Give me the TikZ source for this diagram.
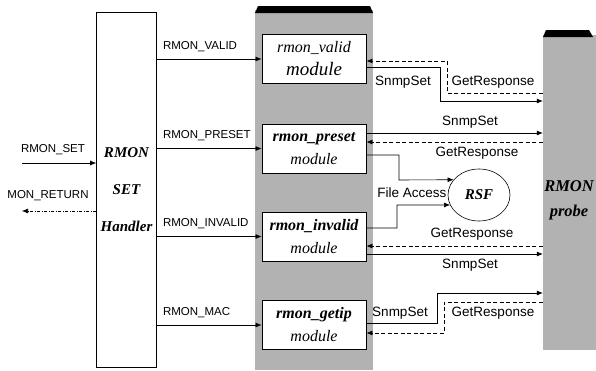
\documentclass[tikz,border=0pt]{standalone}
\usepackage{fontspec}
\setmainfont{Liberation Serif}
\setsansfont{Liberation Sans}
\usetikzlibrary{arrows.meta, positioning, calc, shapes.geometric}

\begin{document}
\begin{tikzpicture}[x=1pt, y=-1pt,
  tip/.style={-{Latex[length=6pt,width=5pt]}},
  sig/.style={tip, line width=0.6pt},
  resp/.style={tip, line width=0.6pt, dash pattern=on 4pt off 2.5pt},
  ret/.style={tip, line width=0.6pt, dash pattern=on 3pt off 1.5pt on 1pt off 1.5pt},
  lbl/.style={font=\sffamily\fontsize{13.5}{15}\selectfont, inner sep=1pt},
  cmd/.style={font=\sffamily\fontsize{11.5}{13}\selectfont, inner sep=1pt},
  cmdlbl/.style={cmd, anchor=south west, pos=0, xshift=5pt, yshift=6pt},
  modbox/.style={draw, line width=0.9pt, fill=white, minimum width=104pt,
    minimum height=49pt, inner sep=0pt, align=center,
    font=\itshape\fontsize{16}{23}\selectfont},
  panel/.style={fill=black!30}]

\useasboundingbox (0,0) rectangle (596,370);
\clip (0,0) rectangle (596,370);

% module panel
\fill[panel] (255,10) rectangle (373,370);
\fill (255,13) -- (258,6) -- (370,6) -- (373,13) -- cycle;

% probe panel
\node[panel, minimum width=53pt, minimum height=315pt, inner sep=0pt] (probe) at (569.5,192.5) {};
\fill (543,37) -- (546,30) -- (589,30) -- (593,37) -- cycle;
\node[align=center, inner sep=0pt, font=\bfseries\itshape\fontsize{16.5}{25}\selectfont] (probelbl) at (569,200) {RMON\\probe};

% handler
\node[draw, line width=0.6pt, fill=white, minimum width=60pt, minimum height=355pt, align=center,
  font=\bfseries\itshape\fontsize{15}{37}\selectfont] (handler) at (126.5,189.5) {RMON\\SET\\Handler};

% modules
\node[modbox] (valid) at (314,59) {rmon\_valid\\{\fontsize{19}{23}\selectfont module}};
\node[modbox] (preset) at (314,148.5) {{\bfseries rmon\_preset}\\module};
\node[modbox] (invalid) at (314,236.5) {{\bfseries rmon\_invalid}\\module};
\node[modbox] (getip) at (314,325) {{\bfseries rmon\_getip}\\module};

% RSF
\node[draw, ellipse, line width=0.6pt, minimum width=62pt, minimum height=52pt, inner sep=0pt,
  font=\bfseries\itshape\fontsize{15}{18}\selectfont] (rsf) at (479,195) {RSF};

% handler in / out
\coordinate (setin) at (22,163);
\draw[sig] (setin) -- (setin -| handler.west);
\node[cmd] (setlbl) at (53,150) {RMON\_SET};
\coordinate (retout) at (22,211);
\draw[ret] (retout -| handler.west) -- (retout);
\node[cmd] (retlbl) at (48,196) {MON\_RETURN};

% handler to modules
\draw[sig] (handler.east |- valid.west) -- (valid.west) node[cmdlbl] (vlbl) {RMON\_VALID};
\draw[sig] (handler.east |- preset.west) -- (preset.west) node[cmdlbl] (plbl) {RMON\_PRESET};
\draw[sig] (handler.east |- invalid.west) -- (invalid.west) node[cmdlbl] (ilbl) {RMON\_INVALID};
\draw[sig] (handler.east |- getip.west) -- (getip.west) node[cmdlbl] (mlbl) {RMON\_MAC};

% valid <-> probe
\draw[resp] (probe.west |- 0,93) -| (447,61) -- (valid.east |- 0,61);
\draw[sig] (valid.east |- 0,67) -| (440,101) -- (probe.west |- 0,101);
\node[lbl] (vset) at (403,82) {SnmpSet};
\node[lbl] (vget) at (493,82) {GetResponse};

% preset <-> probe
\draw[sig] (preset.east |- 0,133) -- (probe.west |- 0,133);
\draw[resp] (probe.west |- 0,142) -- (preset.east |- 0,142);
\node[lbl] (pset) at (470,122) {SnmpSet};
\node[lbl] (pget) at (477,153) {GetResponse};

% file access
\draw[sig] (preset.east |- 0,155) -| (399,180) -- (rsf.149);
\draw[sig] (invalid.east |- 0,228) -| (397,205) -- (rsf.199);
\node[lbl] (facc) at (412,193) {File Access};

% invalid <-> probe
\draw[resp] (probe.west |- 0,246) -- (invalid.east |- 0,246);
\draw[sig] (invalid.east |- 0,254) -- (probe.west |- 0,254);
\node[lbl] (iget) at (472,234) {GetResponse};
\node[lbl] (iset) at (470,265) {SnmpSet};

% getip <-> probe
\draw[sig] (getip.east |- 0,323) -| (437,293) -- (probe.west |- 0,293);
\draw[resp] (probe.west |- 0,302) -| (444,333) -- (getip.east |- 0,333);
\node[lbl] (gset) at (400,313) {SnmpSet};
\node[lbl] (gget) at (493,313) {GetResponse};

\end{tikzpicture}
\end{document}
